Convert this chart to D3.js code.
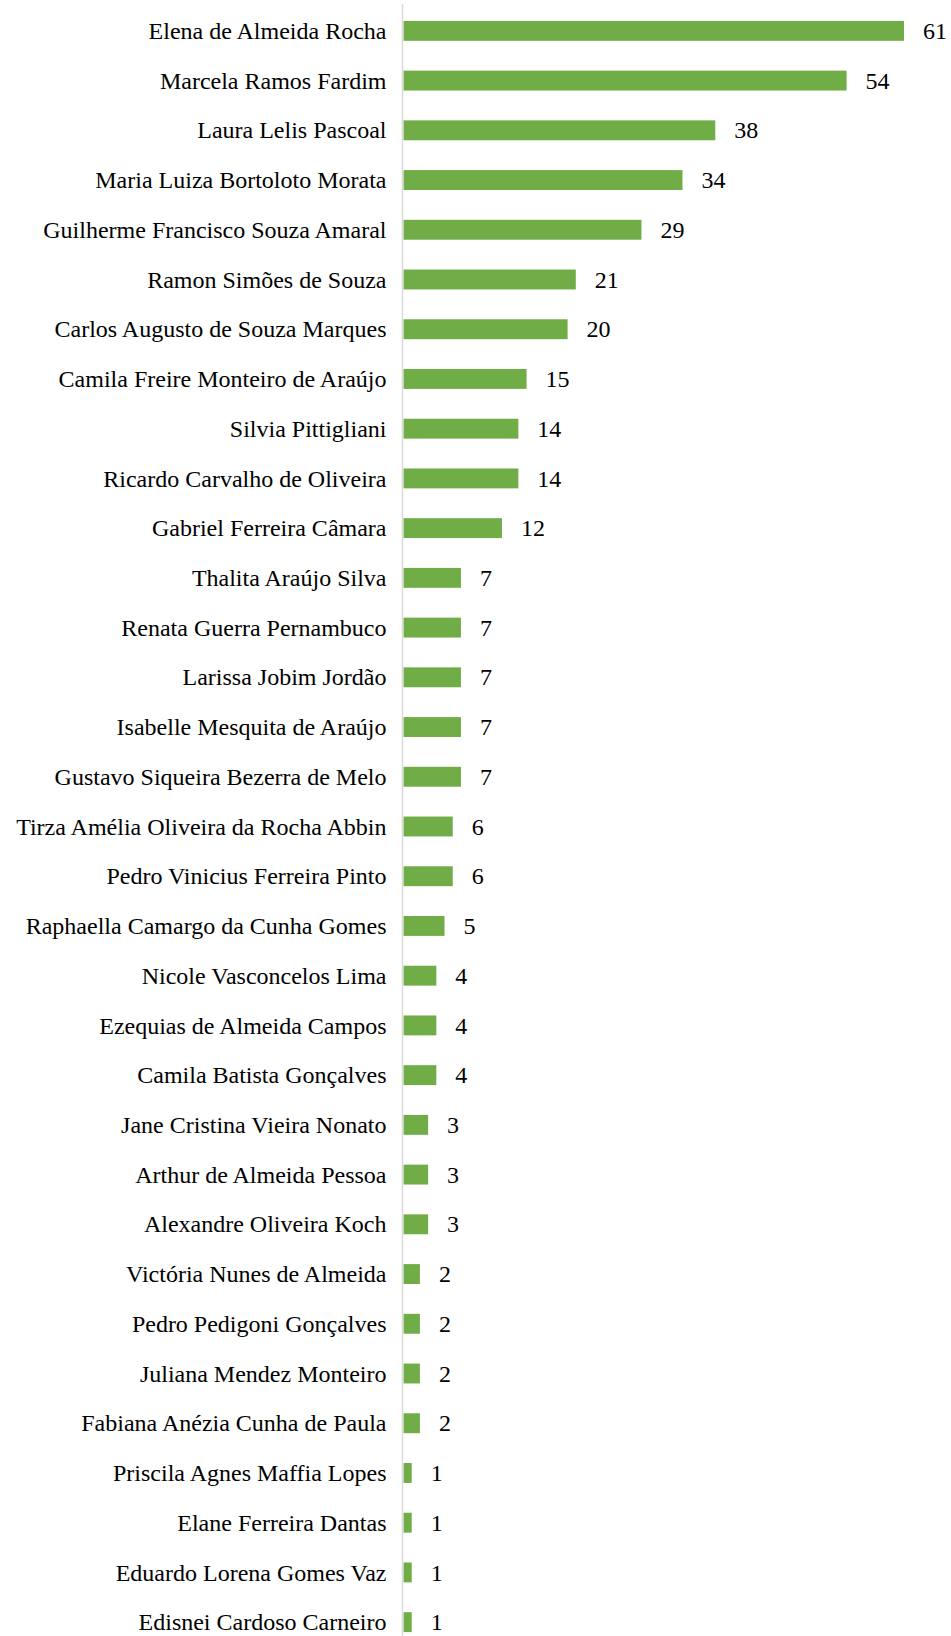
<!DOCTYPE html>
<html>
<head>
<meta charset="utf-8">
<script src="https://cdn.jsdelivr.net/npm/d3@7"></script>
<style>
  body { margin: 0; background: #fff; }
  text { font-family: "Liberation Serif", "Times New Roman", serif; fill: #000; }
</style>
</head>
<body>
<svg id="chart" width="951" height="1636"></svg>
<script>
const names = [
  "Elena de Almeida Rocha", "Marcela Ramos Fardim", "Laura Lelis Pascoal",
  "Maria Luiza Bortoloto Morata", "Guilherme Francisco Souza Amaral",
  "Ramon Simões de Souza", "Carlos Augusto de Souza Marques",
  "Camila Freire Monteiro de Araújo", "Silvia Pittigliani",
  "Ricardo Carvalho de Oliveira", "Gabriel Ferreira Câmara",
  "Thalita Araújo Silva", "Renata Guerra Pernambuco", "Larissa Jobim Jordão",
  "Isabelle Mesquita de Araújo", "Gustavo Siqueira Bezerra de Melo",
  "Tirza Amélia Oliveira da Rocha Abbin", "Pedro Vinicius Ferreira Pinto",
  "Raphaella Camargo da Cunha Gomes", "Nicole Vasconcelos Lima",
  "Ezequias de Almeida Campos", "Camila Batista Gonçalves",
  "Jane Cristina Vieira Nonato", "Arthur de Almeida Pessoa",
  "Alexandre Oliveira Koch", "Victória Nunes de Almeida",
  "Pedro Pedigoni Gonçalves", "Juliana Mendez Monteiro",
  "Fabiana Anézia Cunha de Paula", "Priscila Agnes Maffia Lopes",
  "Elane Ferreira Dantas", "Eduardo Lorena Gomes Vaz", "Edisnei Cardoso Carneiro"
];
const counts = [61, 54, 38, 34, 29, 21, 20, 15, 14, 14, 12, 7, 7, 7, 7, 7,
  6, 6, 5, 4, 4, 4, 3, 3, 3, 2, 2, 2, 2, 1, 1, 1, 1];

const data = names.map((name, i) => ({ name, value: counts[i] }));

const svg = d3.select("#chart");
const axisX = 402.5;

const x = d3.scaleLinear().domain([0, 61]).range([403.5, 904]);
const y = d3.scaleBand()
  .domain(names)
  .range([6, 1647])
  .paddingInner(0.6)
  .paddingOuter(0.3);

// bars
svg.append("g")
  .selectAll("rect")
  .data(data)
  .join("rect")
  .attr("x", x(0))
  .attr("y", d => y(d.name))
  .attr("width", d => x(d.value) - x(0))
  .attr("height", y.bandwidth())
  .attr("fill", "#70ad47");

// category axis line
svg.append("line")
  .attr("x1", axisX).attr("x2", axisX)
  .attr("y1", 4).attr("y2", 1636)
  .attr("stroke", "#d9d9d9")
  .attr("stroke-width", 1.5);

// category labels
svg.append("g")
  .selectAll("text")
  .data(data)
  .join("text")
  .attr("x", axisX - 16)
  .attr("y", d => y(d.name) + y.bandwidth() / 2)
  .attr("dy", "0.34em")
  .attr("text-anchor", "end")
  .style("font-size", "24px")
  .text(d => d.name);

// value labels
svg.append("g")
  .selectAll("text")
  .data(data)
  .join("text")
  .attr("x", d => x(d.value) + 19)
  .attr("y", d => y(d.name) + y.bandwidth() / 2)
  .attr("dy", "0.34em")
  .style("font-size", "24px")
  .text(d => d.value);
</script>
</body>
</html>
